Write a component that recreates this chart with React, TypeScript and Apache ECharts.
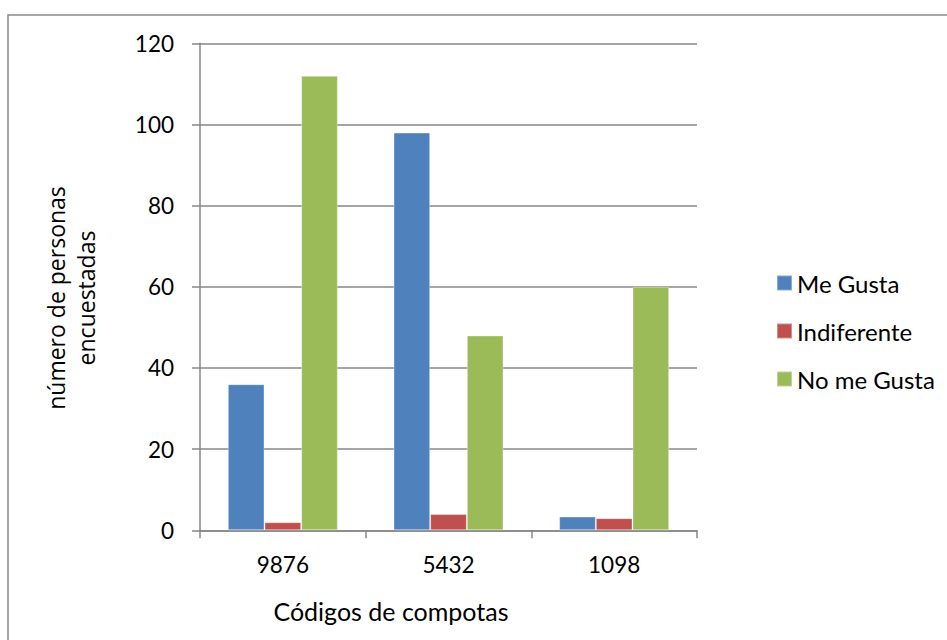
import React, { useEffect, useRef } from "react";
import * as echarts from "echarts";

const categories = ["9876", "5432", "1098"];
const seriesNames = ["Me Gusta", "Indiferente", "No me Gusta"];
const meGusta = [36, 98, 3.4];
const indiferente = [2, 4, 3];
const noMeGusta = [112, 48, 60];
const colors = ["#4F81BD", "#C0504D", "#9BBB59"];
const yTitle = "número de personas\nencuestadas";
const xTitle = "Códigos de compotas";

export default function App() {
  const ref = useRef<HTMLDivElement>(null);
  useEffect(() => {
    if (!ref.current) return;
    const chart = echarts.init(ref.current, null, { renderer: "svg" });
    const values = [meGusta, indiferente, noMeGusta];
    chart.setOption({
      animation: false,
      backgroundColor: "#ffffff",
      grid: { left: 200, right: 250, top: 43.3, bottom: 109.7, containLabel: false },
      legend: {
        orient: "vertical",
        left: 771,
        top: 266,
        itemWidth: 15,
        itemHeight: 15,
        itemGap: 24,
        icon: "rect",
        textStyle: { fontFamily: "Lato", fontSize: 24, color: "#000", lineHeight: 24 },
        data: seriesNames,
      },
      xAxis: {
        type: "category",
        data: categories,
        axisLine: { lineStyle: { color: "#878787", width: 1.5 } },
        axisTick: { show: true, length: 8, alignWithLabel: false, lineStyle: { color: "#878787", width: 1.5 } },
        axisLabel: { fontFamily: "Lato", fontSize: 22.5, color: "#000", margin: 23 },
      },
      yAxis: {
        type: "value",
        min: 0,
        max: 120,
        interval: 20,
        axisLine: { show: true, lineStyle: { color: "#878787", width: 1.5 } },
        axisTick: { show: true, length: 8, lineStyle: { color: "#878787", width: 1.5 } },
        axisLabel: { fontFamily: "Lato", fontSize: 22.5, color: "#000", margin: 26 },
        splitLine: { show: true, lineStyle: { color: "#878787", width: 1.5 } },
      },
      series: seriesNames.map((name, i) => ({
        name,
        type: "bar",
        data: values[i],
        barGap: "0%",
        barCategoryGap: "33.6%",
        itemStyle: { color: colors[i], borderColor: "rgba(255,255,255,0.35)", borderWidth: 1 },
      })),
      graphic: [
        {
          type: "rect",
          shape: { x: 8, y: 15, width: 1200, height: 900 },
          style: { fill: "none", stroke: "#898989", lineWidth: 1.5 },
          silent: true,
        },
        {
          type: "text",
          x: 71,
          y: 298,
          rotation: Math.PI / 2,
          style: {
            text: yTitle,
            fontFamily: "Open Sans",
            fontSize: 23,
            lineHeight: 30,
            fill: "#000",
            align: "center",
            verticalAlign: "middle",
          },
        },
        {
          type: "text",
          x: 391,
          y: 611,
          style: {
            text: xTitle,
            fontFamily: "Lato",
            fontSize: 25,
            fill: "#000",
            align: "center",
            verticalAlign: "middle",
          },
        },
      ],
    });
    return () => chart.dispose();
  }, []);
  return (
    <div
      ref={ref}
      style={{ position: "absolute", left: 0, top: 0, width: 947, height: 640 }}
    />
  );
}
